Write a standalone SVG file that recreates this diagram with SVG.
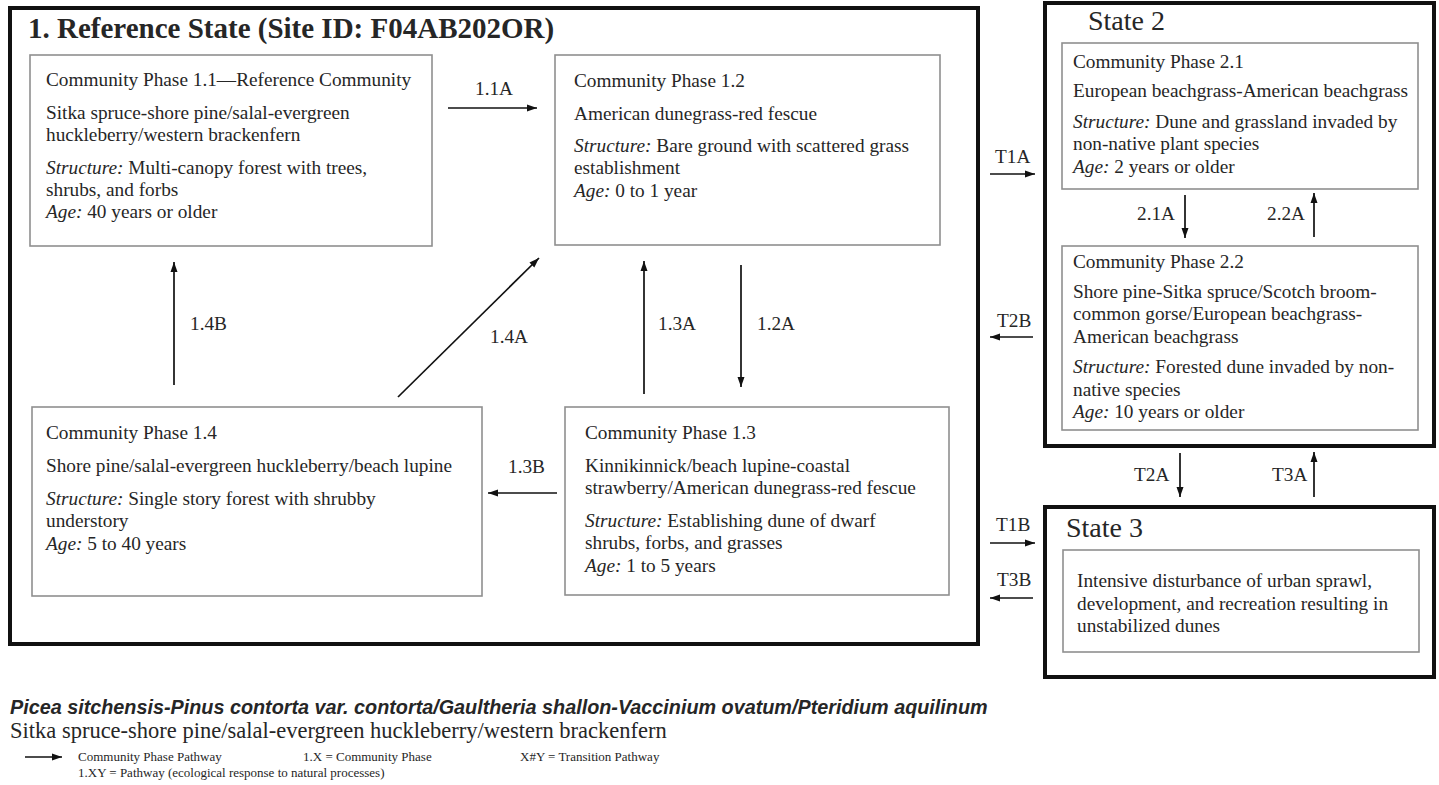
<svg xmlns="http://www.w3.org/2000/svg" width="1439" height="785" viewBox="0 0 1439 785">
<defs>
<marker id="ah" markerUnits="userSpaceOnUse" markerWidth="10" markerHeight="8" refX="10" refY="4" orient="auto">
<path d="M0,0.5 L10,4 L0,7.5 z" fill="#111"/>
</marker>
<style>
text{font-family:"Liberation Serif","Times New Roman",serif;fill:#262626}
.b{font-size:19.3px}
.i{font-style:italic}
.lbl{font-size:19.3px}
.st{fill:#fff;stroke:#111;stroke-width:4}
.ph{fill:#fff;stroke:#8f8f8f;stroke-width:1.6}
.ttl{font-size:28px}
.c line{stroke:#111;stroke-width:1.7;marker-end:url(#ah)}
.leg{font-size:13px}
</style>
</defs>
<rect width="1439" height="785" fill="#fff"/>

<g id="state1">
<rect class="st" x="10" y="8" width="968" height="636"/>
<text x="28" y="38" font-weight="bold" style="font-size:29px">1. Reference State (Site ID: F04AB202OR)</text>
</g>

<g id="phase11">
<rect class="ph" x="30" y="55" width="402" height="191"/>
<text class="b" x="46" y="86">Community Phase 1.1—Reference Community</text>
<text class="b" x="46" y="119">Sitka spruce-shore pine/salal-evergreen</text>
<text class="b" x="46" y="141">huckleberry/western brackenfern</text>
<text class="b" x="46" y="174"><tspan class="i">Structure:</tspan> Multi-canopy forest with trees,</text>
<text class="b" x="46" y="196">shrubs, and forbs</text>
<text class="b" x="46" y="218"><tspan class="i">Age:</tspan> 40 years or older</text>
</g>

<g id="phase12">
<rect class="ph" x="555" y="55" width="385" height="190"/>
<text class="b" x="574" y="87">Community Phase 1.2</text>
<text class="b" x="574" y="120">American dunegrass-red fescue</text>
<text class="b" x="574" y="152"><tspan class="i">Structure:</tspan> Bare ground with scattered grass</text>
<text class="b" x="574" y="174">establishment</text>
<text class="b" x="574" y="197"><tspan class="i">Age:</tspan> 0 to 1 year</text>
</g>

<g id="phase14">
<rect class="ph" x="32" y="407" width="450" height="189"/>
<text class="b" x="46" y="439">Community Phase 1.4</text>
<text class="b" x="46" y="472">Shore pine/salal-evergreen huckleberry/beach lupine</text>
<text class="b" x="46" y="505"><tspan class="i">Structure:</tspan> Single story forest with shrubby</text>
<text class="b" x="46" y="527">understory</text>
<text class="b" x="46" y="550"><tspan class="i">Age:</tspan> 5 to 40 years</text>
</g>

<g id="phase13">
<rect class="ph" x="565" y="407" width="384" height="188"/>
<text class="b" x="585" y="439">Community Phase 1.3</text>
<text class="b" x="585" y="472">Kinnikinnick/beach lupine-coastal</text>
<text class="b" x="585" y="494">strawberry/American dunegrass-red fescue</text>
<text class="b" x="585" y="527"><tspan class="i">Structure:</tspan> Establishing dune of dwarf</text>
<text class="b" x="585" y="549">shrubs, forbs, and grasses</text>
<text class="b" x="585" y="572"><tspan class="i">Age:</tspan> 1 to 5 years</text>
</g>

<g id="state2">
<rect class="st" x="1045" y="3" width="389" height="443"/>
<text class="ttl" x="1088" y="30">State 2</text>
</g>

<g id="phase21">
<rect class="ph" x="1062" y="43" width="356" height="146"/>
<text class="b" x="1073" y="68">Community Phase 2.1</text>
<text class="b" x="1073" y="97">European beachgrass-American beachgrass</text>
<text class="b" x="1073" y="128"><tspan class="i">Structure:</tspan> Dune and grassland invaded by</text>
<text class="b" x="1073" y="150">non-native plant species</text>
<text class="b" x="1073" y="173"><tspan class="i">Age:</tspan> 2 years or older</text>
</g>

<g id="phase22">
<rect class="ph" x="1062" y="246" width="356" height="184"/>
<text class="b" x="1073" y="268">Community Phase 2.2</text>
<text class="b" x="1073" y="298">Shore pine-Sitka spruce/Scotch broom-</text>
<text class="b" x="1073" y="320">common gorse/European beachgrass-</text>
<text class="b" x="1073" y="343">American beachgrass</text>
<text class="b" x="1073" y="373"><tspan class="i">Structure:</tspan> Forested dune invaded by non-</text>
<text class="b" x="1073" y="396">native species</text>
<text class="b" x="1073" y="418"><tspan class="i">Age:</tspan> 10 years or older</text>
</g>

<g id="state3">
<rect class="st" x="1045" y="507" width="389" height="170"/>
<text class="ttl" x="1066" y="537">State 3</text>
<rect class="ph" x="1063" y="550" width="356" height="102"/>
<text class="b" x="1077" y="587">Intensive disturbance of urban sprawl,</text>
<text class="b" x="1077" y="610">development, and recreation resulting in</text>
<text class="b" x="1077" y="632">unstabilized dunes</text>
</g>

<g id="connectors" class="c">
<line x1="448" y1="108" x2="537" y2="108"/>
<line x1="174" y1="385" x2="174" y2="262"/>
<line x1="398" y1="397" x2="539" y2="258"/>
<line x1="644" y1="394" x2="644" y2="261"/>
<line x1="741" y1="265" x2="741" y2="387"/>
<line x1="557" y1="493" x2="488" y2="493"/>
<line x1="990" y1="174" x2="1035" y2="174"/>
<line x1="1033" y1="337" x2="990" y2="337"/>
<line x1="1185" y1="195" x2="1185" y2="238"/>
<line x1="1314" y1="237" x2="1314" y2="193"/>
<line x1="1180" y1="453" x2="1180" y2="497"/>
<line x1="1314" y1="497" x2="1314" y2="452"/>
<line x1="990" y1="543" x2="1035" y2="543"/>
<line x1="1033" y1="598" x2="990" y2="598"/>
<line x1="25" y1="757" x2="62" y2="757"/>
</g>

<g id="labels">
<text class="lbl" x="475" y="95">1.1A</text>
<text class="lbl" x="190" y="330">1.4B</text>
<text class="lbl" x="490" y="343">1.4A</text>
<text class="lbl" x="658" y="330">1.3A</text>
<text class="lbl" x="757" y="330">1.2A</text>
<text class="lbl" x="508" y="473">1.3B</text>
<text class="lbl" x="995" y="163">T1A</text>
<text class="lbl" x="997" y="327">T2B</text>
<text class="lbl" x="1137" y="220">2.1A</text>
<text class="lbl" x="1267" y="220">2.2A</text>
<text class="lbl" x="1134" y="481">T2A</text>
<text class="lbl" x="1272" y="481">T3A</text>
<text class="lbl" x="996" y="531">T1B</text>
<text class="lbl" x="997" y="586">T3B</text>
</g>

<g id="caption">
<text x="10" y="714" style="font-family:'Liberation Sans',Arial,sans-serif;font-weight:bold;font-style:italic;font-size:19.8px">Picea sitchensis-Pinus contorta var. contorta/Gaultheria shallon-Vaccinium ovatum/Pteridium aquilinum</text>
<text x="10" y="738" style="font-size:22.5px">Sitka spruce-shore pine/salal-evergreen huckleberry/western brackenfern</text>
</g>

<g id="legend">
<text class="leg" x="78" y="761">Community Phase Pathway</text>
<text class="leg" x="303" y="761">1.X = Community Phase</text>
<text class="leg" x="520" y="761">X#Y = Transition Pathway</text>
<text class="leg" x="78" y="777">1.XY = Pathway (ecological response to natural processes)</text>
</g>
</svg>
